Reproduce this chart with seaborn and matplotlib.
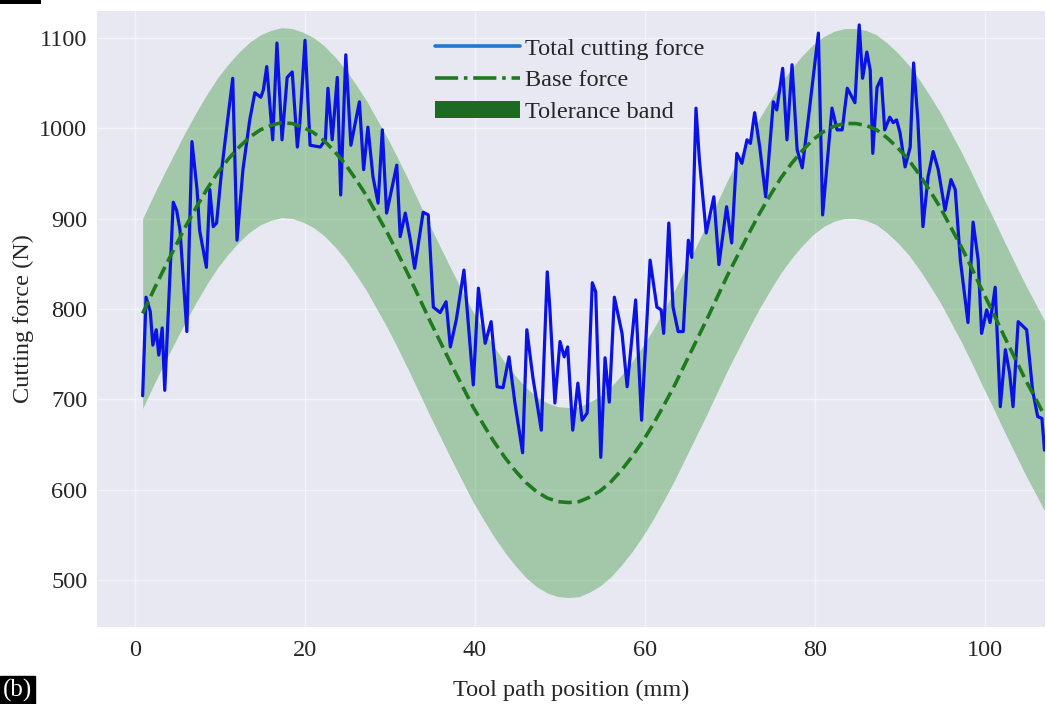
import matplotlib
matplotlib.use("Agg")
import matplotlib.pyplot as plt
from matplotlib.lines import Line2D
from matplotlib.patches import Patch, Rectangle
import seaborn as sns
import numpy as np

# Measured total cutting force along the tool path
position_mm = [0.9, 1.3, 1.8, 2.1, 2.5, 2.8, 3.2, 3.5, 4.5, 4.9,
               5.3, 6.1, 6.7, 7.3, 7.6, 8.4, 8.8, 9.2, 9.6, 10.2,
               10.9, 11.5, 12.0, 12.7, 13.5, 14.1, 14.8, 15.1, 15.5, 16.2,
               16.7, 17.3, 17.9, 18.5, 19.1, 19.4, 20.0, 20.6, 21.8, 22.4,
               22.7, 23.2, 23.8, 24.2, 24.8, 25.4, 26.4, 26.9, 27.4, 28.0,
               28.6, 29.1, 29.6, 30.8, 31.2, 31.8, 32.4, 32.9, 33.9, 34.5,
               35.1, 35.9, 36.6, 37.1, 37.8, 38.7, 39.8, 40.4, 41.2, 41.9,
               42.6, 43.3, 44.0, 44.7, 45.6, 46.1, 46.8, 47.8, 48.5, 48.8,
               49.4, 50.0, 50.5, 50.9, 51.5, 52.1, 52.6, 53.2, 53.8, 54.2,
               54.8, 55.3, 55.8, 56.4, 57.3, 57.9, 58.9, 59.6, 60.6, 61.4,
               61.9, 62.2, 62.8, 63.3, 63.9, 64.5, 65.1, 65.5, 66.0, 66.4,
               67.2, 68.1, 68.7, 69.6, 70.2, 70.8, 71.4, 72.0, 72.4, 72.9,
               73.5, 74.2, 75.1, 75.5, 76.2, 76.7, 77.3, 77.9, 78.5, 79.2,
               80.4, 80.9, 82.0, 82.6, 83.2, 83.8, 84.7, 85.2, 85.6, 86.1,
               86.5, 86.8, 87.3, 87.8, 88.2, 88.8, 89.2, 89.6, 90.0, 90.6,
               91.2, 91.6, 92.1, 92.7, 93.3, 93.9, 94.5, 95.3, 96.0, 96.5,
               97.1, 98.0, 98.6, 99.2, 99.6, 100.2, 100.6, 101.2, 101.8, 102.4,
               102.9, 103.3, 103.9, 104.9, 105.6, 106.2, 106.7, 107.0]
total_force = [704, 813, 797, 760, 777, 749, 779, 710, 918, 909,
               887, 775, 985, 932, 887, 846, 932, 891, 895, 954,
               1009, 1055, 876, 954, 1009, 1039, 1034, 1042, 1068, 987,
               1094, 987, 1056, 1062, 979, 1006, 1097, 981, 979, 987,
               1044, 987, 1056, 926, 1081, 981, 1029, 954, 1001, 946,
               917, 998, 906, 959, 880, 906, 876, 845, 907, 904,
               802, 796, 808, 758, 788, 843, 716, 823, 762, 786,
               714, 713, 747, 696, 641, 777, 725, 666, 841, 802,
               696, 764, 747, 758, 666, 718, 677, 685, 829, 819,
               636, 746, 697, 813, 773, 714, 810, 677, 854, 802,
               799, 773, 895, 802, 775, 775, 876, 857, 1022, 965,
               884, 924, 849, 913, 873, 972, 961, 987, 983, 1017,
               979, 924, 1029, 1020, 1066, 987, 1070, 976, 956, 1009,
               1105, 904, 1022, 998, 998, 1044, 1028, 1114, 1055, 1084,
               1064, 972, 1045, 1055, 998, 1012, 1006, 1009, 995, 957,
               979, 1072, 1009, 891, 946, 974, 954, 909, 943, 932,
               854, 785, 896, 854, 773, 799, 785, 824, 692, 755,
               729, 692, 786, 777, 710, 681, 679, 644]

# Nominal (base) cutting force
base_position = [0.9, 2.25, 3.5, 4.75, 6.0, 7.25, 8.5, 9.75, 11.0, 12.25,
                 13.5, 14.75, 16.0, 17.25, 18.5, 19.75, 21.0, 22.25, 23.5, 24.75,
                 26.0, 27.25, 28.5, 29.75, 31.0, 32.25, 33.5, 34.75, 36.0, 37.25,
                 38.5, 39.75, 41.0, 42.25, 43.5, 44.75, 46.0, 47.25, 48.5, 49.75,
                 51.0, 52.25, 53.5, 54.75, 56.0, 57.25, 58.5, 59.75, 61.0, 62.25,
                 63.5, 64.75, 66.0, 67.25, 68.5, 69.75, 71.0, 72.25, 73.5, 74.75,
                 76.0, 77.25, 78.5, 79.75, 81.0, 82.25, 83.5, 84.75, 86.0, 87.25,
                 88.5, 89.75, 91.0, 92.25, 93.5, 94.75, 96.0, 97.25, 98.5, 99.75,
                 101.0, 102.25, 103.5, 104.75, 106.0, 106.5, 107.0]
base_force = [795, 822, 846, 869, 892, 913, 933, 951, 966, 979,
              990, 998, 1003, 1006, 1005, 1001, 995, 986, 974, 960,
              943, 925, 904, 883, 860, 836, 811, 786, 762, 738,
              715, 692, 672, 653, 636, 621, 608, 598, 591, 587,
              586, 587, 592, 599, 609, 622, 637, 654, 673, 694,
              716, 740, 764, 788, 813, 838, 861, 884, 906, 926,
              945, 961, 975, 987, 996, 1002, 1005, 1005, 1003, 998,
              989, 978, 965, 949, 931, 912, 890, 868, 844, 819,
              795, 770, 746, 722, 700, 691, 682]
tolerance = 105  # half-width of the tolerance band (N)

x_ticks = [0, 20, 40, 60, 80, 100]
y_ticks = [500, 600, 700, 800, 900, 1000, 1100]

sns.set_theme(style="darkgrid")
plt.rcParams["font.family"] = ["Liberation Serif", "DejaVu Serif"]
FS = 17.5

fig = plt.figure(figsize=(10.47, 7.04), dpi=100)
ax = fig.add_axes([97 / 1047, 1 - 627 / 704, (1045 - 97) / 1047, (627 - 11) / 704])
ax.set_facecolor("#E8E8F2")

base_arr = np.asarray(base_force, dtype=float)
ax.fill_between(base_position, base_arr - tolerance, base_arr + tolerance,
                color="green", alpha=0.3, linewidth=0, zorder=1)

sns.lineplot(x=position_mm, y=total_force, ax=ax, color="#0b12e6",
             linewidth=2.3, estimator=None, sort=False, zorder=3)
sns.lineplot(x=base_position, y=base_force, ax=ax, color="#1f7a1f",
             linewidth=2.6, linestyle="--", estimator=None, sort=False, zorder=4)

ax.set_xlim(-4.47, 107.06)
ax.set_ylim(448.4, 1129.4)
ax.set_xticks(x_ticks)
ax.set_yticks(y_ticks)
ax.grid(True, color="white", linewidth=1.0, alpha=0.45)
ax.tick_params(axis="x", labelsize=FS, pad=9, length=0)
ax.tick_params(axis="y", labelsize=FS, pad=7, length=0)
ax.set_xlabel("Tool path position (mm)", fontsize=FS, labelpad=14)
ax.set_ylabel("Cutting force (N)", fontsize=FS, labelpad=4)
for side in ax.spines.values():
    side.set_visible(False)

handles = [
    Line2D([0], [0], color="#1f78cc", linewidth=2.6),
    Line2D([0], [0], color="#1f7a1f", linewidth=2.6, linestyle="-."),
    Patch(facecolor="#1d6b23", edgecolor="none"),
]
labels = ["Total cutting force", "Base force", "Tolerance band"]
ax.legend(handles, labels, loc="upper left", bbox_to_anchor=(0.3565, 0.957),
          frameon=False, fontsize=FS, handlelength=3.5, handletextpad=0.2,
          labelspacing=0.4, borderpad=0, borderaxespad=0)

# Panel tag and the edge of the neighbouring panel tag
fig.text(3 / 1047, 1 - 690 / 704, "(b)", color="white", fontsize=18,
         ha="left", va="center",
         bbox=dict(facecolor="black", edgecolor="black", pad=2))
fig.patches.append(Rectangle((0, 1 - 4 / 704), 41 / 1047, 4 / 704,
                             transform=fig.transFigure, facecolor="black",
                             edgecolor="none"))

fig.savefig("out.png", dpi=100, facecolor="white")
